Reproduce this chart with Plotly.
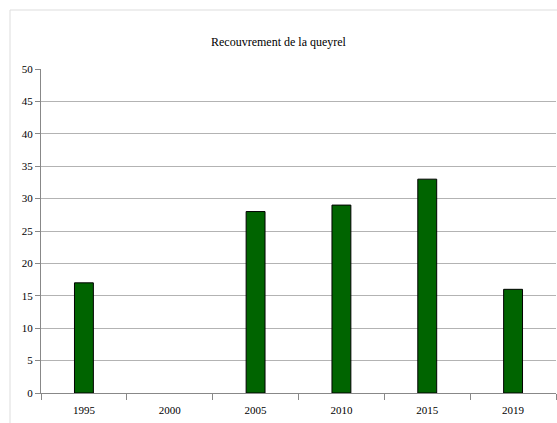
import plotly.graph_objects as go

years = ["1995", "2000", "2005", "2010", "2015", "2019"]
values = [17, 0, 28, 29, 33, 16]
title = "Recouvrement de la queyrel"

W, H = 557, 423
L, R, T, B = 41, 1, 69, 30
pw, ph = W - L - R, H - T - B

fig = go.Figure(go.Bar(
    x=years, y=values, width=0.22,
    marker=dict(color="#006400",
                line=dict(color="#000000", width=[1 if v > 0 else 0 for v in values])),
))

def px(x):
    return (x - L) / pw

def py(y):
    return (H - B - y) / ph

fig.update_layout(
    width=W, height=H,
    margin=dict(l=L, r=R, t=T, b=B),
    paper_bgcolor="white", plot_bgcolor="white",
    showlegend=False,
    font=dict(family="Liberation Serif", size=11, color="#000000"),
    title=dict(text=title, x=0.5, xanchor="center", y=1 - 42 / H, yanchor="middle",
               font=dict(family="Liberation Serif", size=12, color="#000000")),
    shapes=[dict(type="rect", xref="paper", yref="paper",
                 x0=px(10), x1=px(560), y0=py(426), y1=py(10),
                 line=dict(color="#dddddd", width=1), layer="below")],
)
fig.update_xaxes(
    type="category", showgrid=False, showline=True, linecolor="#888888", linewidth=1,
    ticks="outside", tickson="boundaries", ticklen=6, tickcolor="#888888",
    ticklabelstandoff=7,
    tickfont=dict(family="Liberation Serif", size=11), range=[-0.5, 5.5],
)
fig.update_yaxes(
    range=[0, 50], dtick=5, showgrid=True, gridcolor="#b3b3b3", gridwidth=1,
    showline=True, linecolor="#888888", linewidth=1,
    ticks="outside", ticklen=5, tickcolor="#888888", zeroline=False,
    tickfont=dict(family="Liberation Serif", size=11),
)
fig.write_html("out.html", config={"displayModeBar": False},
               post_script="document.body.style.margin='0';document.body.style.overflow='hidden';")
